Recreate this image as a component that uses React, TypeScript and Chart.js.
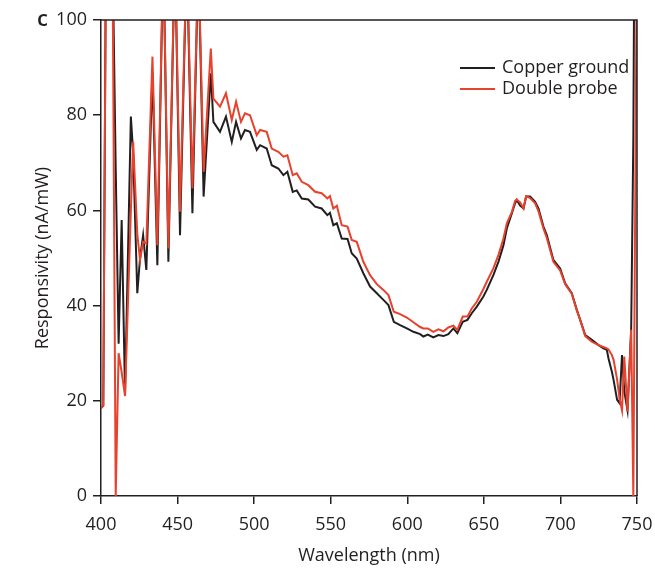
import React, { useEffect, useRef } from "react";
import { Chart, registerables } from "chart.js";

Chart.register(...registerables);

// Wavelength grid (nm)
const wavelengths = [
  400, 401.5, 403.5, 405.5, 407.5, 409.6, 411.5, 413.5, 415.7, 419.5,
  421, 423.7, 425.5, 427.5, 429.6, 433.6, 436.8, 440.7, 444, 448.3,
  451.6, 456, 459.7, 463.6, 467, 471.7, 473.4, 477.7, 481.6, 485.4,
  488.2, 491.4, 494, 497.3, 501.7, 503.9, 508.2, 511.5, 515.8, 519.1,
  521.7, 525.2, 527.8, 531.1, 535.4, 539.8, 544.1, 547.8, 549.5, 551.7,
  554, 557.2, 561, 563.7, 567, 571.3, 575.7, 580.1, 584.4, 587.7,
  591.2, 595.3, 599.7, 604, 608.4, 610.5, 613.4, 617, 620.3, 623.6,
  626.8, 630.1, 632.7, 636.2, 639.3, 642.1, 645.4, 649.7, 651.9, 656.2,
  659.5, 662.8, 665, 668.3, 670.4, 671.5, 673.7, 675.9, 677.6, 680.2,
  683.5, 685.7, 688.9, 691.1, 695.4, 699.8, 703.1, 707.4, 710.7, 712.9,
  716.2, 720.5, 724.9, 728.1, 730.3, 731.4, 733.6, 734.7, 737, 738.6,
  740.2, 741.7, 743.8, 746.2, 747.6, 748.5, 750,
];

// Responsivity (nA/mW)
const copperGround = [
  18.5, 19, 130, 140, 115, 69, 32, 58, 21.6, 79.7,
  72, 42.6, 50, 54.8, 47.5, 89, 48.5, 115, 49.2, 115,
  54.8, 114, 59.4, 113, 62.9, 88.8, 78.6, 76.5, 79.7, 74.4,
  78.6, 75.1, 76.9, 76.5, 72.7, 73.7, 73, 69.5, 68.8, 67.4,
  68.1, 63.9, 64.2, 62.5, 62.3, 60.8, 60.4, 59, 59.5, 56.9,
  57.3, 54.1, 54, 51, 49.9, 46.8, 44, 42.6, 41.2, 40.1,
  36.6, 35.9, 35.2, 34.5, 34, 33.5, 33.9, 33.3, 33.8, 33.6,
  34, 35.2, 34.2, 36.6, 37, 38.4, 39.8, 41.9, 43.3, 46.4,
  49.2, 52.7, 56.2, 59.4, 61.5, 62.2, 61, 60.4, 62.9, 62.9,
  61.8, 60.4, 56.6, 54.8, 49.6, 47.8, 44.7, 42.6, 39.1, 37,
  33.8, 32.8, 31.7, 31, 30.7, 28.9, 26.1, 24.4, 20.2, 19.5,
  29.6, 22, 18, 35, 75, 130, 130,
];

const doubleProbe = [
  18.5, 19, 130, 140, 115, 0, 30, 26, 21, 60,
  74.4, 55, 49.6, 53.4, 53, 92.3, 52.7, 115, 52, 115,
  59.7, 114, 64.6, 113, 68.1, 94, 83.5, 81.8, 84.6, 79,
  82.8, 78.6, 80.4, 80, 75.8, 76.9, 76.5, 73, 72.3, 71.3,
  71.6, 67.4, 67.8, 66, 65.3, 63.9, 63.6, 62.5, 63, 60.4,
  61, 56.9, 56.6, 53.8, 53.4, 49.2, 46.4, 44.5, 43.3, 42.2,
  38.7, 38.2, 37.5, 36.5, 35.5, 35.2, 35.2, 34.5, 35, 34.6,
  35.4, 35.8, 34.9, 37.7, 37.7, 39.4, 40.8, 43.5, 45, 47.8,
  50.6, 54.1, 57.3, 59.7, 62, 62.3, 61.7, 60.4, 63, 62.6,
  61.5, 59.8, 56.2, 54.2, 49.2, 47.4, 44.5, 42.5, 39, 37,
  33.6, 32.4, 31.7, 31.3, 31, 30.8, 29.6, 28.6, 24.5, 20.5,
  18, 29.3, 17.7, 34.9, 0, 45, 120,
];

const xTicks = [400, 450, 500, 550, 600, 650, 700, 750];
const yTicks = [0, 20, 40, 60, 80, 100];
const seriesLabels = ["Copper ground", "Double probe"];
const seriesColors = ["#231f20", "#e8412c"];

const AXIS_COLOR = "#231f20";
const FONT = "'Open Sans', 'Noto Sans', sans-serif";

const framePlugin = {
  id: "frame",
  afterDraw(chart: any) {
    const { ctx, chartArea } = chart;
    ctx.save();
    ctx.strokeStyle = AXIS_COLOR;
    ctx.lineWidth = 1.5;
    ctx.beginPath();
    ctx.moveTo(chartArea.left, chartArea.top);
    ctx.lineTo(chartArea.right, chartArea.top);
    ctx.lineTo(chartArea.right, chartArea.bottom);
    ctx.stroke();
    ctx.restore();
  },
};

const legendPlugin = {
  id: "customLegend",
  afterDraw(chart: any) {
    const { ctx, chartArea } = chart;
    ctx.save();
    ctx.font = `18px ${FONT}`;
    ctx.textBaseline = "middle";
    ctx.textAlign = "left";
    const x0 = chartArea.left + 359;
    chart.data.datasets.forEach((ds: any, i: number) => {
      const y = chartArea.top + 48 + i * 21;
      ctx.strokeStyle = ds.borderColor;
      ctx.lineWidth = 2;
      ctx.beginPath();
      ctx.moveTo(x0, y);
      ctx.lineTo(x0 + 35, y);
      ctx.stroke();
      ctx.fillStyle = AXIS_COLOR;
      ctx.fillText(ds.label, x0 + 42, y);
    });
    ctx.restore();
  },
};

export default function App() {
  const canvasRef = useRef<HTMLCanvasElement | null>(null);

  useEffect(() => {
    document.body.style.margin = "0";
    const canvas = canvasRef.current;
    if (!canvas) return;
    const toPoints = (ys: number[]) => wavelengths.map((x, i) => ({ x, y: ys[i] }));
    const chart = new Chart(canvas, {
      type: "line",
      data: {
        datasets: [
          {
            label: seriesLabels[0],
            data: toPoints(copperGround),
            borderColor: seriesColors[0],
            backgroundColor: seriesColors[0],
            borderWidth: 2,
            pointRadius: 0,
            tension: 0,
            order: 1,
            clip: 0,
          },
          {
            label: seriesLabels[1],
            data: toPoints(doubleProbe),
            borderColor: seriesColors[1],
            backgroundColor: seriesColors[1],
            borderWidth: 2,
            pointRadius: 0,
            tension: 0,
            order: 0,
            clip: 0,
          },
        ],
      },
      options: {
        animation: false,
        responsive: false,
        devicePixelRatio: 1,
        layout: { padding: { top: 20, right: 18, left: 0, bottom: 0 } },
        plugins: {
          legend: { display: false },
          tooltip: { enabled: false },
        },
        scales: {
          x: {
            type: "linear",
            min: 400,
            max: 750,
            afterBuildTicks: (scale: any) => {
              scale.ticks = xTicks.map((v) => ({ value: v }));
            },
            afterFit: (scale: any) => {
              scale.height = 76;
              scale.paddingLeft = 0;
              scale.paddingRight = 0;
            },
            ticks: {
              color: AXIS_COLOR,
              font: { family: FONT, size: 18 },
              padding: 10,
              maxRotation: 0,
              autoSkip: false,
            },
            grid: {
              display: true,
              drawOnChartArea: false,
              drawTicks: true,
              tickLength: 8,
              color: AXIS_COLOR,
              lineWidth: 1.5,
            },
            border: { display: true, color: AXIS_COLOR, width: 1.5 },
            title: {
              display: true,
              text: "Wavelength (nm)",
              color: AXIS_COLOR,
              font: { family: FONT, size: 18 },
              padding: { top: 0, bottom: 5 },
            },
          },
          y: {
            type: "linear",
            min: 0,
            max: 100,
            afterBuildTicks: (scale: any) => {
              scale.ticks = yTicks.map((v) => ({ value: v }));
            },
            afterFit: (scale: any) => {
              scale.width = 101;
              scale.paddingTop = 0;
              scale.paddingBottom = 0;
            },
            ticks: {
              color: AXIS_COLOR,
              font: { family: FONT, size: 18 },
              padding: 6,
            },
            grid: {
              display: true,
              drawOnChartArea: false,
              drawTicks: true,
              tickLength: 8,
              color: AXIS_COLOR,
              lineWidth: 1.5,
            },
            border: { display: true, color: AXIS_COLOR, width: 1.5 },
            title: {
              display: true,
              text: "Responsivity (nA/mW)",
              color: AXIS_COLOR,
              font: { family: FONT, size: 18 },
              padding: { top: 32, bottom: 0 },
            },
          },
        },
      },
      plugins: [framePlugin, legendPlugin],
    });
    return () => chart.destroy();
  }, []);

  return (
    <div style={{ position: "relative", width: 655, height: 572, background: "#fff" }}>
      <canvas ref={canvasRef} width={655} height={572} style={{ display: "block" }} />
      <div
        style={{
          position: "absolute",
          left: 37,
          top: 4,
          fontFamily: FONT,
          fontSize: 22,
          fontWeight: 600,
          color: AXIS_COLOR,
          lineHeight: "26px",
        }}
      >
        c
      </div>
    </div>
  );
}
